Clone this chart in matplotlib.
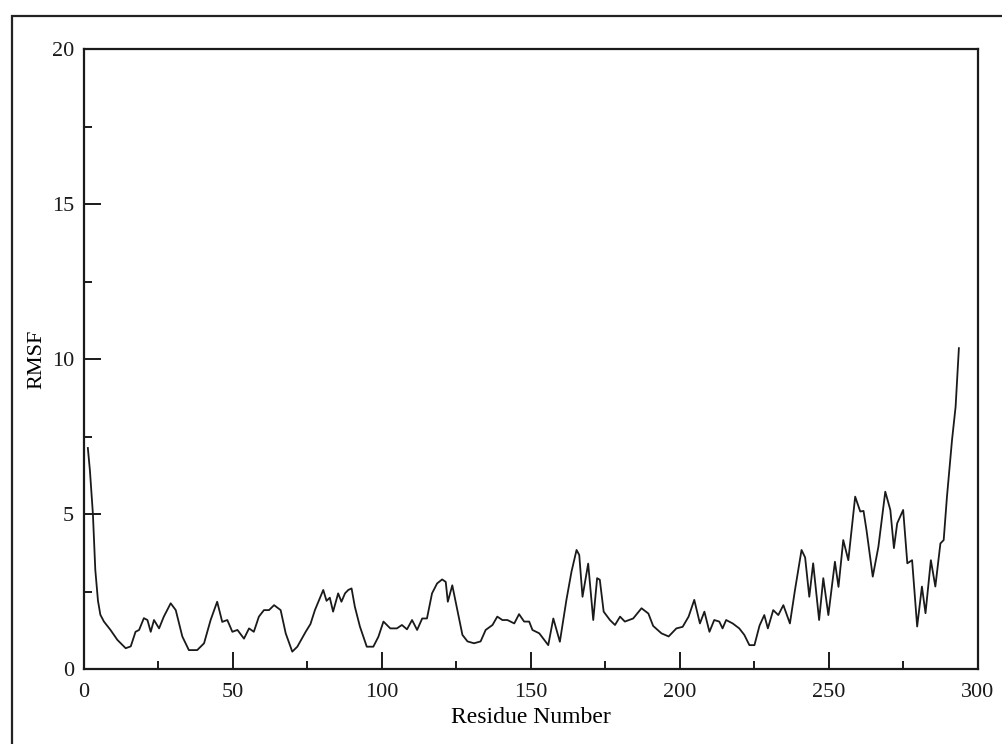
import matplotlib
matplotlib.use("Agg")
import matplotlib.pyplot as plt
from matplotlib.patches import Rectangle
from matplotlib.ticker import MultipleLocator

plt.rcParams["font.family"] = ["Liberation Serif", "DejaVu Serif"]

# per-residue fluctuation (residue index, RMSF)
residue = [
    1.3, 2.0, 3.0, 3.8, 4.7, 5.5, 6.7, 8.9, 11.2, 14.0, 15.7, 17.3, 18.5, 20.1,
    21.3, 22.4, 23.5, 25.2, 26.8, 29.1, 30.8, 33.0, 35.2, 38.0, 40.3, 42.5,
    44.7, 46.4, 48.1, 49.8, 51.5, 53.7, 55.4, 57.0, 58.7, 60.4, 62.1, 63.8,
    66.0, 67.7, 69.9, 71.6, 74.4, 76.0, 77.5, 80.3, 81.4, 82.5, 83.6, 85.3,
    86.4, 87.6, 88.7, 89.8, 90.9, 92.6, 94.9, 97.1, 98.8, 100.5, 102.8, 105.0,
    106.7, 108.4, 110.1, 111.8, 113.5, 115.1, 116.8, 118.5, 120.2, 121.4,
    122.1, 123.6, 125.3, 127.0, 128.7, 130.9, 133.1, 134.8, 137.1, 138.7,
    140.4, 142.1, 144.4, 146.0, 147.7, 149.4, 150.5, 152.8, 155.8, 157.5,
    159.7, 161.9, 163.6, 165.3, 166.2, 167.3, 169.2, 170.9, 172.2, 173.1,
    174.4, 176.5, 178.2, 179.9, 181.5, 184.3, 187.1, 189.4, 191.0, 193.8,
    196.2, 198.8, 200.9, 202.9, 204.8, 206.7, 208.2, 209.9, 211.5, 213.2,
    214.3, 215.5, 217.7, 219.9, 221.6, 223.3, 225.0, 226.7, 228.3, 229.5,
    231.3, 233.0, 234.7, 236.9, 238.6, 240.8, 242.0, 243.4, 244.7, 246.7,
    248.1, 249.8, 252.0, 253.2, 254.8, 256.5, 258.8, 260.5, 261.6, 262.6,
    264.7, 266.6, 268.9, 270.6, 271.8, 272.9, 274.9, 276.3, 277.9, 279.6,
    281.2, 282.4, 284.2, 285.7, 287.4, 288.5, 289.6, 291.3, 292.5, 293.6,
]
rmsf = [
    7.13, 6.40, 5.00, 3.20, 2.20, 1.75, 1.53, 1.26, 0.94, 0.67, 0.73, 1.20,
    1.26, 1.64, 1.58, 1.20, 1.58, 1.31, 1.69, 2.12, 1.90, 1.05, 0.61, 0.61,
    0.83, 1.58, 2.17, 1.52, 1.58, 1.20, 1.26, 0.98, 1.31, 1.20, 1.69, 1.90,
    1.90, 2.06, 1.90, 1.15, 0.56, 0.72, 1.20, 1.45, 1.90, 2.55, 2.20, 2.30,
    1.85, 2.44, 2.17, 2.44, 2.55, 2.60, 2.01, 1.37, 0.72, 0.72, 1.04, 1.53,
    1.31, 1.31, 1.42, 1.28, 1.58, 1.26, 1.63, 1.63, 2.44, 2.76, 2.89, 2.81,
    2.17, 2.70, 1.90, 1.10, 0.89, 0.83, 0.89, 1.26, 1.42, 1.69, 1.58, 1.58,
    1.47, 1.77, 1.53, 1.53, 1.26, 1.15, 0.77, 1.63, 0.88, 2.23, 3.14, 3.84,
    3.68, 2.33, 3.40, 1.58, 2.93, 2.88, 1.85, 1.58, 1.42, 1.69, 1.53, 1.63,
    1.96, 1.79, 1.39, 1.15, 1.05, 1.31, 1.36, 1.69, 2.23, 1.47, 1.85, 1.20,
    1.58, 1.53, 1.31, 1.58, 1.47, 1.31, 1.10, 0.77, 0.77, 1.40, 1.74, 1.31,
    1.90, 1.74, 2.06, 1.47, 2.55, 3.84, 3.60, 2.33, 3.41, 1.58, 2.93, 1.74,
    3.46, 2.65, 4.16, 3.51, 5.56, 5.08, 5.10, 4.48, 2.98, 3.95, 5.72, 5.13,
    3.90, 4.70, 5.13, 3.41, 3.51, 1.37, 2.66, 1.80, 3.51, 2.66, 4.05, 4.16,
    5.56, 7.39, 8.46, 10.35,
]

fig = plt.figure(figsize=(10.02, 7.44), dpi=100, facecolor="white")
ax = fig.add_axes([0.0838, 0.1008, 0.8922, 0.8333])

# page frame around the whole plot
fig.patches.append(Rectangle((12 / 1002, -0.05), 1.1, 1 - 16 / 744 + 0.05,
                             transform=fig.transFigure, fill=False,
                             edgecolor="#222222", linewidth=1.6))

ax.plot(residue, rmsf, color="#1a1a1a", linewidth=1.3)

ax.set_xlim(0, 300)
ax.set_ylim(0, 20)
ax.xaxis.set_major_locator(MultipleLocator(50))
ax.xaxis.set_minor_locator(MultipleLocator(25))
ax.yaxis.set_major_locator(MultipleLocator(5))
ax.yaxis.set_minor_locator(MultipleLocator(2.5))
ax.tick_params(which="both", direction="in", width=1.4, colors="#1a1a1a",
               labelsize=16)
ax.tick_params(which="major", length=12.5)
ax.tick_params(which="minor", length=6)
ax.tick_params(axis="x", pad=10)
ax.tick_params(axis="y", pad=7)
for sp in ax.spines.values():
    sp.set_linewidth(1.6)
    sp.set_color("#1a1a1a")

ax.set_xlabel("Residue Number", fontsize=17)
ax.set_ylabel("RMSF", fontsize=16)
ax.xaxis.set_label_coords(0.5, -0.061)
ax.yaxis.set_label_coords(-0.042, 0.5)

fig.savefig("out.png", dpi=100, facecolor="white")
